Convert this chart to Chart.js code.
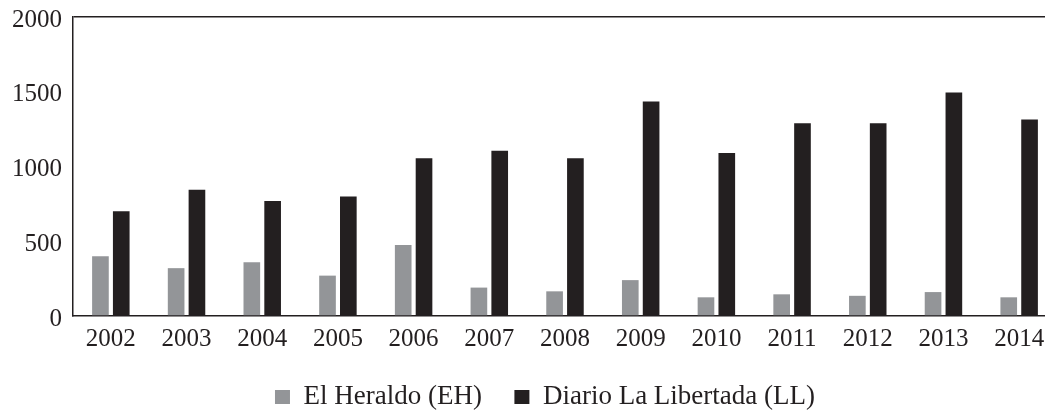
<!DOCTYPE html>
<html>
<head>
<meta charset="utf-8">
<script src="https://cdn.jsdelivr.net/npm/chart.js@4.4.1/dist/chart.umd.min.js"></script>
<style>
  html, body { margin: 0; padding: 0; background: #fff; overflow: hidden; }
  #wrap { position: relative; width: 1090px; height: 411px; }
</style>
</head>
<body>
<div id="wrap"><canvas id="newsChart"></canvas></div>
<script>
  // Values.
  var years = ['2002', '2003', '2004', '2005', '2006', '2007', '2008',
               '2009', '2010', '2011', '2012', '2013', '2014'];
  var elHeraldo = [400, 320, 360, 270, 475, 190, 165, 240, 125, 145, 135, 160, 125];
  var laLibertad = [700, 845, 770, 800, 1055, 1105, 1055, 1435, 1090, 1290, 1290, 1495, 1315];
  var yTicks = [0, 500, 1000, 1500, 2000];

  var INK = '#231f20';
  var GREY = '#939598';
  var NONE = 'rgba(0,0,0,0)';

  Chart.defaults.font.family = '"Liberation Serif", "Times New Roman", serif';
  Chart.defaults.color = INK;

  new Chart(document.getElementById('newsChart').getContext('2d'), {
    type: 'bar',
    data: {
      labels: years,
      datasets: [{
        label: 'El Heraldo (EH)',
        data: elHeraldo,
        backgroundColor: GREY
      }, {
        label: 'Diario La Libertada (LL)',
        data: laLibertad,
        backgroundColor: INK
      }]
    },
    options: {
      responsive: true,
      maintainAspectRatio: false,
      animation: false,
      categoryPercentage: 0.55,
      barPercentage: 0.8,
      layout: {
        padding: { top: 17, left: 0, right: 0, bottom: 0.5 }
      },
      plugins: {
        tooltip: { enabled: false },
        legend: {
          position: 'bottom',
          maxHeight: 59.5,
          labels: {
            boxWidth: 15,
            boxHeight: 14,
            padding: 32.5,
            color: INK,
            font: { size: 27 }
          }
        }
      },
      scales: {
        x: {
          grid: { display: false, drawTicks: false },
          border: { display: true, color: INK, width: 1.5 },
          ticks: { padding: 8.5, color: INK, font: { size: 25 }, maxRotation: 0 },
          afterFit: function (scale) { scale.height = 35; }
        },
        y: {
          min: 0,
          max: 2000,
          afterBuildTicks: function (scale) {
            scale.ticks = yTicks.map(function (v) { return { value: v }; });
          },
          afterFit: function (scale) { scale.width = 73; },
          grid: {
            drawTicks: true,
            tickLength: 11,
            tickColor: NONE,
            lineWidth: 1.5,
            color: function (ctx) {
              return ctx.tick && ctx.tick.value === 2000 ? INK : NONE;
            }
          },
          border: { display: true, color: INK, width: 1.5 },
          ticks: {
            padding: 0,
            labelOffset: 3,
            color: INK,
            font: { size: 25 },
            callback: function (val) { return String(val); }
          }
        },
        // empty right-hand strip: the plot runs past the right edge of the picture
        y2: {
          type: 'linear',
          position: 'right',
          grid: { display: false },
          border: { display: false },
          ticks: { display: false },
          afterFit: function (scale) { scale.width = 33; }
        }
      }
    }
  });
</script>
</body>
</html>
